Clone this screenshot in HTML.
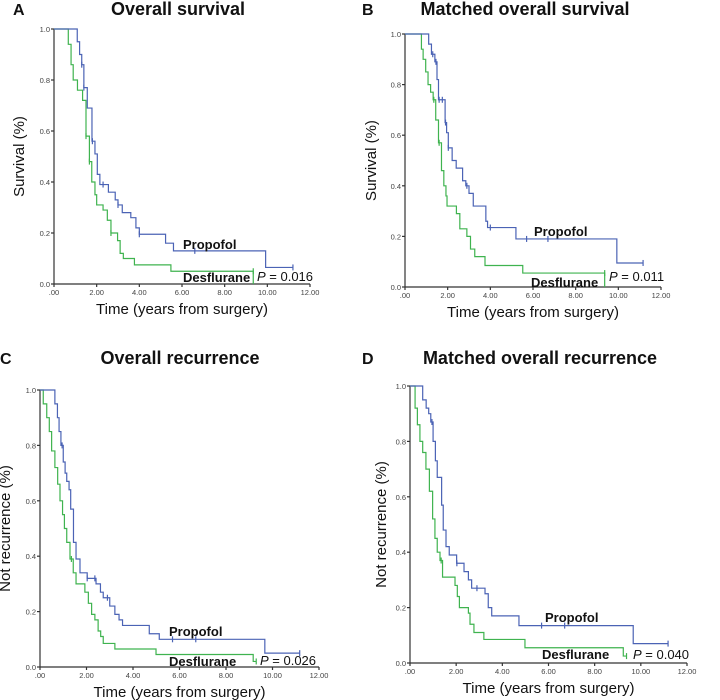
<!DOCTYPE html>
<html><head><meta charset="utf-8"><style>
html,body{margin:0;padding:0;background:#fff;}
svg{display:block;font-family:"Liberation Sans",sans-serif;}
.tk{font-size:7.5px;fill:#444;}
.ttl{font-size:18px;font-weight:bold;fill:#111;font-family:"Liberation Sans",sans-serif;}
.lt{font-size:16px;font-weight:bold;fill:#111;}
.ax{font-size:15px;fill:#111;font-family:"Liberation Sans",sans-serif;}
.gl{font-size:13px;font-weight:bold;fill:#111;font-family:"Liberation Sans",sans-serif;}
.pv{font-size:13px;fill:#111;font-family:"Liberation Sans",sans-serif;}
</style></head><body>
<svg id="fig" width="720" height="700" viewBox="0 0 720 700"></svg>
<script>
const xTicks=[0,2,4,6,8,10,12];
const xTickLabels=['.00','2.00','4.00','6.00','8.00','10.00','12.00'];
const yTicks=[0,0.2,0.4,0.6,0.8,1.0];
const yTickLabels=['0.0','0.2','0.4','0.6','0.8','1.0'];
// Panel A
const aBlueT=[1.09,1.2,1.3,1.4,1.56,1.78,1.92,2.03,2.15,2.3,2.55,2.87,3.0,3.2,3.6,3.84,4.0,5.23,5.6,9.92];
const aBlueS=[0.95,0.9,0.86,0.77,0.69,0.56,0.51,0.43,0.39,0.39,0.36,0.33,0.31,0.28,0.26,0.22,0.195,0.16,0.13,0.065];
const aBlueEnd=11.2;
const aGreenT=[0.67,0.8,0.9,1.1,1.34,1.5,1.66,1.77,1.92,2.0,2.3,2.5,2.67,2.98,3.1,3.25,3.77,5.48,9.34];
const aGreenS=[0.94,0.86,0.8,0.76,0.72,0.58,0.48,0.4,0.35,0.31,0.29,0.25,0.2,0.17,0.12,0.1,0.075,0.05,0];
const aGreenEnd=9.34;
const aBlueCens=[1.3,1.4,1.8,2.3,3.0,4.0,6.6,11.2];
const aGreenCens=[1.5,1.66,2.67,9.34];
// Panel B
const bBlueT=[1.11,1.24,1.4,1.5,1.57,1.88,1.95,2.03,2.21,2.4,2.7,2.85,3.0,3.2,3.79,3.87,5.2,9.93];
const bBlueS=[0.96,0.92,0.89,0.82,0.74,0.65,0.61,0.55,0.5,0.47,0.42,0.4,0.37,0.32,0.26,0.235,0.19,0.095];
const bBlueEnd=11.16;
const bGreenT=[0.77,0.85,0.97,1.08,1.2,1.32,1.44,1.57,1.71,1.82,1.92,1.97,2.41,2.57,2.9,3.07,3.27,3.75,5.52,9.36];
const bGreenS=[0.94,0.9,0.85,0.8,0.77,0.74,0.66,0.57,0.46,0.4,0.36,0.32,0.29,0.23,0.2,0.15,0.12,0.085,0.055,0];
const bGreenEnd=9.36;
const bBlueCens=[1.3,1.45,1.6,1.75,1.9,2.03,2.9,4.0,5.7,6.7,11.16];
const bGreenCens=[1.35,1.6,9.36];
// Panel C
const cBlueT=[0.64,0.75,0.82,0.9,1.0,1.08,1.15,1.25,1.32,1.44,1.55,1.72,2.03,2.41,2.6,2.72,3.0,3.22,3.4,3.55,4.7,5.13,9.67];
const cBlueS=[0.95,0.9,0.85,0.8,0.74,0.7,0.67,0.64,0.57,0.45,0.39,0.34,0.32,0.3,0.27,0.25,0.22,0.19,0.17,0.15,0.12,0.1,0.05];
const cBlueEnd=11.17;
const cGreenT=[0.14,0.29,0.4,0.5,0.64,0.76,0.86,0.97,1.05,1.15,1.29,1.43,1.55,1.93,2.08,2.22,2.36,2.5,2.61,2.72,3.22,4.99,9.17];
const cGreenS=[0.95,0.9,0.85,0.78,0.72,0.66,0.6,0.55,0.5,0.45,0.39,0.34,0.3,0.27,0.23,0.19,0.17,0.13,0.11,0.085,0.065,0.045,0.02];
const cGreenEnd=9.3;
const cBlueCens=[0.95,2.03,2.36,2.9,5.7,6.7,11.17];
const cGreenCens=[1.35,9.3];
// Panel D
const dBlueT=[0.55,0.7,0.81,0.9,1.0,1.1,1.18,1.37,1.44,1.56,1.7,2.02,2.34,2.53,2.67,3.25,3.39,3.54,4.72,9.67];
const dBlueS=[0.95,0.92,0.9,0.87,0.8,0.73,0.67,0.57,0.48,0.42,0.39,0.36,0.33,0.3,0.27,0.25,0.2,0.17,0.135,0.07];
const dBlueEnd=11.18;
const dGreenT=[0.22,0.32,0.43,0.55,0.69,0.84,0.98,1.08,1.18,1.3,1.41,1.95,2.05,2.14,2.53,2.6,2.77,3.2,4.98,9.24];
const dGreenS=[0.92,0.86,0.8,0.76,0.7,0.62,0.52,0.45,0.4,0.37,0.31,0.28,0.24,0.2,0.18,0.14,0.11,0.085,0.055,0.025];
const dGreenEnd=9.38;
const dBlueCens=[0.95,2.03,2.9,5.7,6.7,11.18];
const dGreenCens=[1.35,9.38];

const NS='http://www.w3.org/2000/svg';
const svg=document.getElementById('fig');
function mk(tag,attrs,parent){const e=document.createElementNS(NS,tag);for(const k in attrs)e.setAttribute(k,attrs[k]);(parent||svg).appendChild(e);return e;}
const BLUE='#4b63b5',GREEN='#3fb34f';

function panel(id,g,letter,title,ylab,T1,S1,E1,C1,T2,S2,E2,C2,pLabel,lab){
  const grp=mk('g',{});
  
  
  const x=t=>g.x0+(g.x12-g.x0)*t/12;
  const y=v=>g.y0-(g.y0-g.y1)*v;
  let t=mk('text',{x:g.lx,y:g.ly,class:'lt'},grp);t.textContent=letter;
  
  t=mk('text',{x:g.tx,y:g.ly,class:'ttl','text-anchor':'middle'},grp);t.textContent=title;
  
  const axg=mk('g',{stroke:'#333','stroke-width':1.2,fill:'none'},grp);
  mk('line',{x1:g.x0,y1:g.y1,x2:g.x0,y2:g.y0},axg);
  mk('line',{x1:g.x0,y1:g.y0,x2:g.x12,y2:g.y0},axg);
  yTicks.forEach((v,i)=>{
    mk('line',{x1:g.x0-3,y1:y(v),x2:g.x0,y2:y(v)},axg);
    const tt=mk('text',{x:g.x0-4,y:y(v)+3,class:'tk','text-anchor':'end'},grp);tt.textContent=yTickLabels[i];
    
  });
  xTicks.forEach((v,i)=>{
    mk('line',{x1:x(v),y1:g.y0,x2:x(v),y2:g.y0+3},axg);
    const tt=mk('text',{x:x(v),y:g.y0+11,class:'tk','text-anchor':'middle'},grp);tt.textContent=xTickLabels[i];
    
  });
  t=mk('text',{x:(g.x0+g.x12)/2,y:g.y0+30,class:'ax','text-anchor':'middle'},grp);t.textContent='Time (years from surgery)';
  
  const ym=(g.y0+g.y1)/2;
  t=mk('text',{x:g.ylx,y:ym,class:'ax','text-anchor':'middle',transform:'rotate(-90 '+g.ylx+' '+ym+')'},grp);t.textContent=ylab;
  
  function curve(T,S,E,C,col,name){
    let d='M'+x(0)+','+y(1);
    for(let i=0;i<T.length;i++){d+=' H'+x(T[i])+' V'+y(S[i]);}
    if(x(E)>x(T[T.length-1]))d+=' H'+x(E);
    const p=mk('path',{d:d,fill:'none',stroke:col,'stroke-width':1.2},grp);
    
    C.forEach(c=>{
      let v=1;for(let i=0;i<T.length;i++){if(T[i]<=c)v=S[i];}
      if(v===0&&T.length)v=S[T.length-2];
      const m=mk('line',{x1:x(c),y1:y(v)-3,x2:x(c),y2:y(v)+3,stroke:col,'stroke-width':1.2},grp);
      
    });
  }
  curve(T2,S2,E2,C2,GREEN,'desflurane');
  curve(T1,S1,E1,C1,BLUE,'propofol');
  t=mk('text',{x:lab.px,y:lab.py,class:'gl'},grp);t.textContent='Propofol';
  
  t=mk('text',{x:lab.dx,y:lab.dy,class:'gl'},grp);t.textContent='Desflurane';
  
  t=mk('text',{x:lab.vx,y:lab.vy,class:'pv'},grp);
  const it=mk('tspan',{'font-style':'italic'},t);it.textContent='P';
  const rest=mk('tspan',{},t);rest.textContent=' = '+pLabel;
  
}
panel('a',{x0:54,x12:310,y1:29,y0:284,lx:13,ly:15,tx:178,ylx:24},'A','Overall survival','Survival (%)',
  aBlueT,aBlueS,aBlueEnd,aBlueCens,aGreenT,aGreenS,aGreenEnd,aGreenCens,'0.016',
  {px:183,py:249,dx:183,dy:282,vx:257,vy:281});
panel('b',{x0:405,x12:661,y1:34,y0:287,lx:362,ly:15,tx:525,ylx:376},'B','Matched overall survival','Survival (%)',
  bBlueT,bBlueS,bBlueEnd,bBlueCens,bGreenT,bGreenS,bGreenEnd,bGreenCens,'0.011',
  {px:534,py:236,dx:531,dy:287,vx:609,vy:281});
panel('c',{x0:40,x12:319,y1:390,y0:667,lx:0,ly:364,tx:180,ylx:10},'C','Overall recurrence','Not recurrence (%)',
  cBlueT,cBlueS,cBlueEnd,cBlueCens,cGreenT,cGreenS,cGreenEnd,cGreenCens,'0.026',
  {px:169,py:636,dx:169,dy:666,vx:260,vy:665});
panel('d',{x0:410,x12:687,y1:386,y0:663,lx:362,ly:364,tx:540,ylx:386},'D','Matched overall recurrence','Not recurrence (%)',
  dBlueT,dBlueS,dBlueEnd,dBlueCens,dGreenT,dGreenS,dGreenEnd,dGreenCens,'0.040',
  {px:545,py:622,dx:542,dy:659,vx:633,vy:659});
</script>
</body></html>
